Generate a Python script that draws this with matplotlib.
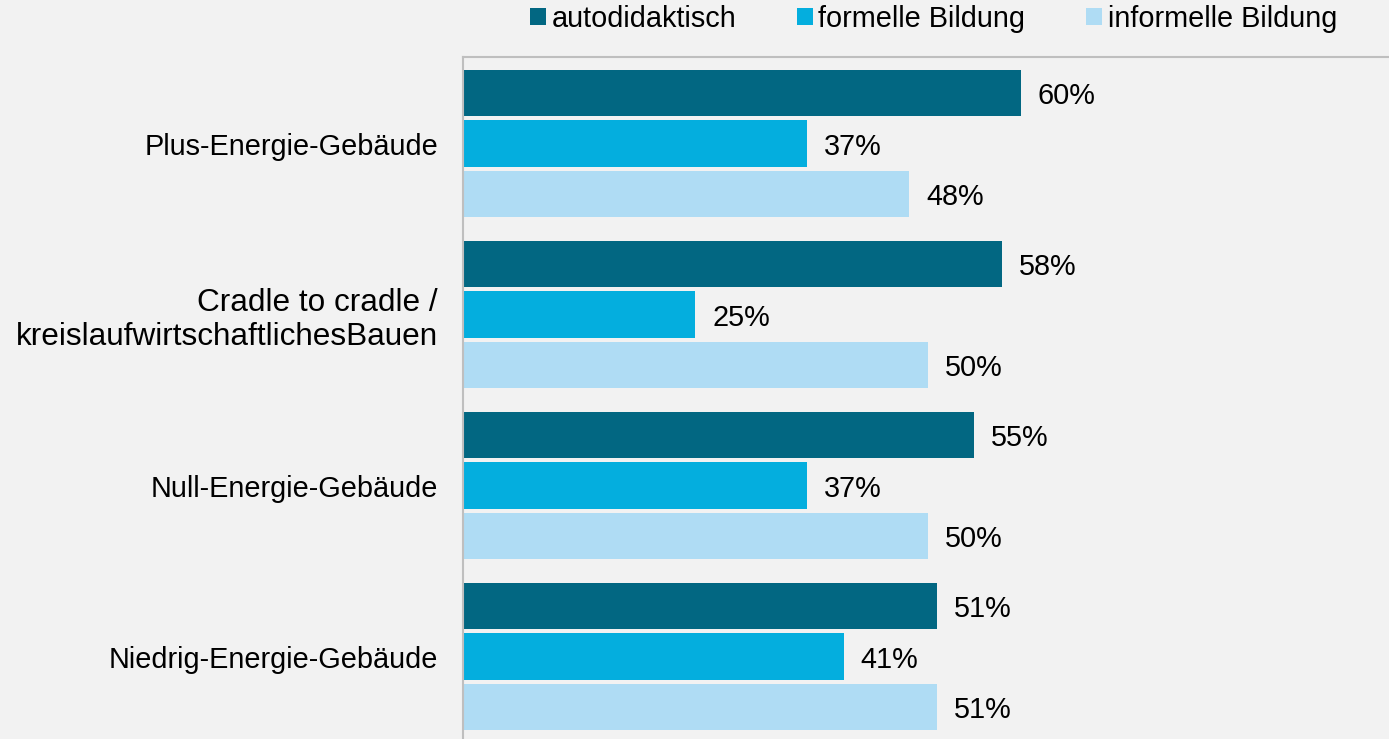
import numpy as np
import matplotlib.pyplot as plt

plt.rcParams['font.family'] = ['Liberation Sans', 'DejaVu Sans']

# Themen (von oben nach unten) und Anteile je Lernform in Prozent
themen = ['Plus-Energie-Gebäude',
          'Cradle to cradle /\nkreislaufwirtschaftlichesBauen',
          'Null-Energie-Gebäude',
          'Niedrig-Energie-Gebäude']
autodidaktisch = [60, 58, 55, 51]
formell = [37, 25, 37, 41]
informell = [48, 50, 50, 51]

reihen = ['autodidaktisch', 'formelle Bildung', 'informelle Bildung']
farben = ['#026782', '#04aede', '#afdcf4']
werte = [autodidaktisch, formell, informell]

bg = '#f2f2f2'
fs = 20.8
fig = plt.figure(figsize=(13.89, 7.39), dpi=100, facecolor=bg)
ax = fig.add_axes([463 / 1389, 0.0, 1 - 463 / 1389, 1 - 57 / 739])
ax.set_facecolor(bg)

y = np.arange(len(themen))
abstand = 0.2965
hoehe = 0.27

for i, (name, farbe, vals) in enumerate(zip(reihen, farben, werte)):
    pos = y + (i - 1) * abstand
    bars = ax.barh(pos, vals, height=hoehe, color=farbe, label=name)
    for b, v in zip(bars, vals):
        ax.annotate(f'{v}%', (v, b.get_y() + b.get_height() / 2),
                    xytext=(12, 0), textcoords='offset points',
                    ha='left', va='center_baseline', fontsize=fs, color='#000000')

ax.set_xlim(0, 99.6)
ax.set_ylim(3.482, -0.506)
ax.set_yticks(y)
ax.set_yticklabels(themen, fontsize=fs, ha='right', linespacing=1.18)
# der zweizeilige Eintrag ist etwas größer gesetzt
ax.get_yticklabels()[1].set_fontsize(22.7)
ax.tick_params(axis='y', length=0, pad=18)
ax.set_xticks([])

for s in ['right', 'bottom']:
    ax.spines[s].set_visible(False)
for s in ['left', 'top']:
    ax.spines[s].set_color('#bfbfbf')
    ax.spines[s].set_linewidth(1.5)

fig.legend(loc='center', bbox_to_anchor=(0.672, 1 - 19 / 739), ncol=3,
           frameon=False, fontsize=fs, handlelength=0.55, handleheight=0.55,
           handletextpad=0.2, columnspacing=2.1, borderaxespad=0, borderpad=0)

fig.savefig('out.png', dpi=100, facecolor=bg)
